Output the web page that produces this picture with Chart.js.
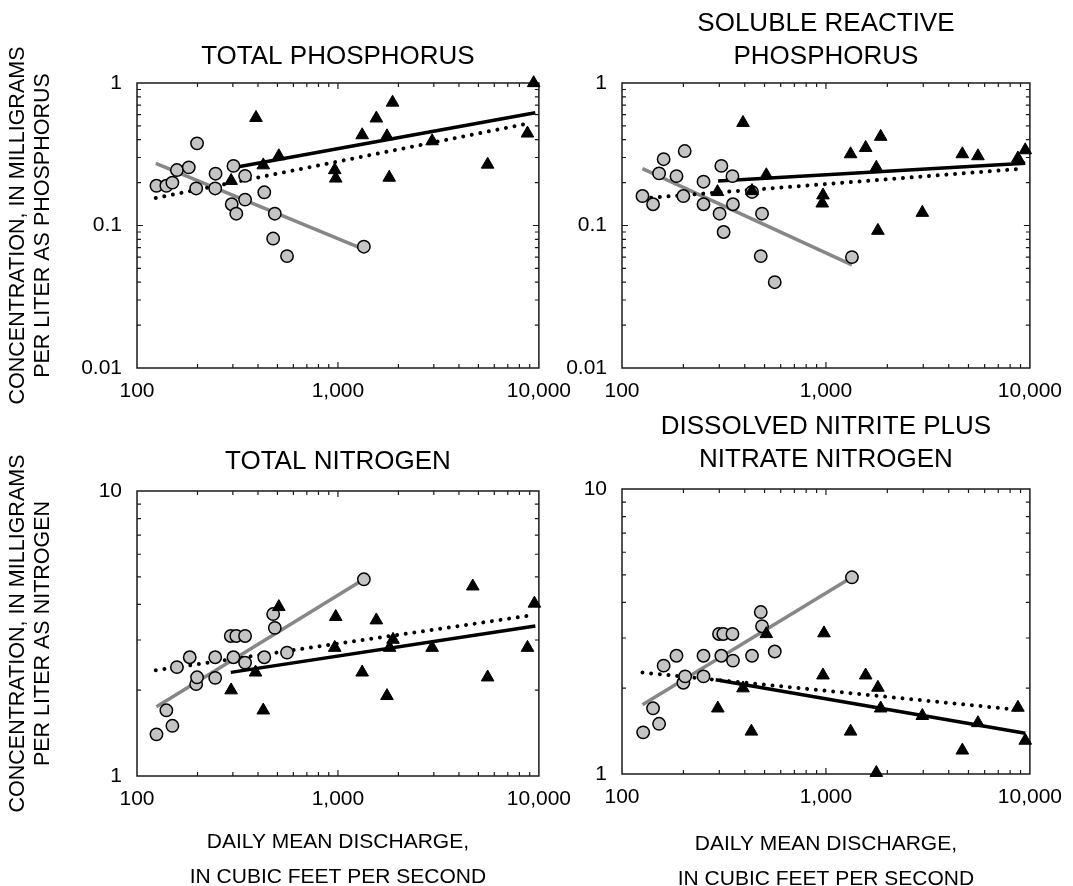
<!DOCTYPE html>
<html>
<head>
<meta charset="utf-8">
<title>Concentration vs discharge</title>
<script src="https://cdn.jsdelivr.net/npm/chart.js@4.4.1/dist/chart.umd.min.js"></script>
<style>
  html, body { margin: 0; padding: 0; background: #fff; overflow: hidden; }
  body { width: 1073px; height: 886px; position: relative; }
  canvas { position: absolute; }
  #cTP  { left: 0;     top: 0; }
  #cSRP { left: 540px; top: 0; }
  #cTN  { left: 0;     top: 400px; }
  #cNO3 { left: 540px; top: 400px; }
</style>
</head>
<body>
<canvas id="cTP" width="582" height="420"></canvas>
<canvas id="cSRP" width="533" height="420"></canvas>
<canvas id="cTN" width="582" height="510"></canvas>
<canvas id="cNO3" width="533" height="510"></canvas>
<script>
// ---- data ----
const X_TICKS = [100, 1000, 10000];
const P_TICKS = [0.01, 0.1, 1];
const N_TICKS = [1, 10];

// total phosphorus
const tpCircX = [125, 140, 150, 158, 181, 199, 197, 246, 245, 302, 296, 312, 345, 345, 430, 485, 476, 558, 1346];
const tpCircY = [0.19, 0.19, 0.20, 0.245, 0.256, 0.377, 0.182, 0.231, 0.182, 0.262, 0.141, 0.121, 0.223, 0.152, 0.171, 0.121, 0.081, 0.061, 0.071];
const tpTriX = [391, 294, 425, 508, 9420, 1870, 1553, 1320, 1754, 2943, 8775, 964, 975, 1800, 5559];
const tpTriY = [0.57, 0.206, 0.265, 0.307, 1.0, 0.73, 0.565, 0.431, 0.424, 0.391, 0.443, 0.245, 0.214, 0.217, 0.268];
const tpGrayX = [124, 1346], tpGrayY = [0.273, 0.068];
const tpSolidX = [300, 9600], tpSolidY = [0.254, 0.618];
const tpDotX = [124, 8900], tpDotY = [0.156, 0.521];

// soluble reactive phosphorus
const srCircX = [126, 142, 152, 160, 185, 203, 200, 251, 251, 307, 348, 301, 350, 315, 434, 486, 479, 561, 1341];
const srCircY = [0.161, 0.141, 0.232, 0.292, 0.222, 0.333, 0.161, 0.203, 0.141, 0.262, 0.222, 0.121, 0.141, 0.090, 0.172, 0.121, 0.061, 0.040, 0.060];
const srTriX = [392, 294, 434, 510, 1321, 1566, 1855, 1766, 967, 959, 1798, 2969, 4664, 5564, 8735, 9490];
const srTriY = [0.526, 0.172, 0.175, 0.226, 0.317, 0.351, 0.42, 0.255, 0.163, 0.143, 0.092, 0.123, 0.317, 0.307, 0.296, 0.338];
const srGrayX = [126, 1341], srGrayY = [0.251, 0.053];
const srSolidX = [296, 9490], srSolidY = [0.205, 0.273];
const srDotX = [126, 8735], srDotY = [0.155, 0.249];

// total nitrogen
const tnCircX = [125, 140, 150, 158, 183, 197, 199, 245, 245, 293, 312, 345, 302, 345, 430, 476, 485, 558, 1346];
const tnCircY = [1.40, 1.70, 1.50, 2.41, 2.61, 2.10, 2.22, 2.61, 2.21, 3.10, 3.10, 3.10, 2.61, 2.50, 2.61, 3.70, 3.31, 2.71, 4.90];
const tnTriX = [294, 389, 425, 508, 975, 964, 1553, 1320, 1754, 1880, 1808, 2943, 4688, 5559, 8775, 9500];
const tnTriY = [2.0, 2.31, 1.70, 3.92, 3.62, 2.82, 3.52, 2.31, 1.91, 3.01, 2.82, 2.82, 4.63, 2.22, 2.82, 4.03];
const tnGrayX = [125, 1346], tnGrayY = [1.75, 4.9];
const tnSolidX = [293, 9600], tnSolidY = [2.31, 3.36];
const tnDotX = [124, 8900], tnDotY = [2.35, 3.65];

// dissolved nitrite plus nitrate nitrogen
const noCircX = [127, 142, 152, 160, 185, 200, 204, 251, 251, 299, 314, 348, 307, 350, 434, 479, 486, 561, 1341];
const noCircY = [1.40, 1.70, 1.50, 2.40, 2.60, 2.09, 2.20, 2.60, 2.20, 3.10, 3.10, 3.10, 2.60, 2.50, 2.60, 3.70, 3.30, 2.69, 4.90];
const noTriX = [295, 392, 431, 510, 978, 967, 1566, 1798, 1321, 1855, 1766, 2969, 4664, 5564, 8735, 9490];
const noTriY = [1.70, 2.00, 1.41, 3.10, 3.12, 2.22, 2.22, 2.01, 1.41, 1.70, 1.01, 1.60, 1.21, 1.51, 1.71, 1.31];
const noGrayX = [126, 1341], noGrayY = [1.75, 4.9];
const noSolidX = [288, 9490], noSolidY = [2.14, 1.39];
const noDotX = [126, 8735], noDotY = [2.27, 1.68];

// ---- helpers ----
const FONT = "'Liberation Sans', Arial, Helvetica, sans-serif";
Chart.defaults.font.family = FONT;
Chart.defaults.color = '#000';

const pts = (xs, ys) => xs.map((x, i) => ({ x: x, y: ys[i] }));

function logMarks(min, max) {
  const out = [];
  for (let e = Math.floor(Math.log10(min)); e < Math.ceil(Math.log10(max)); e++) {
    for (let m = 1; m <= 9; m++) {
      const v = m * Math.pow(10, e);
      if (v > min * 1.0001 && v < max * 0.9999) out.push([v, m === 1]);
    }
  }
  return out;
}

// box around the plot with small inward ticks on all four sides
const frameTicks = {
  id: 'frameTicks',
  beforeDatasetsDraw(chart) {
    const { ctx, chartArea: a, scales: { x, y } } = chart;
    ctx.save();
    ctx.strokeStyle = '#1a1a1a';
    ctx.lineWidth = 1.5;
    ctx.strokeRect(a.left, a.top, a.right - a.left, a.bottom - a.top);
    ctx.lineWidth = 1.2;
    ctx.beginPath();
    logMarks(x.min, x.max).forEach(([v, major]) => {
      const p = x.getPixelForValue(v);
      const len = major ? 6 : 4;
      ctx.moveTo(p, a.bottom); ctx.lineTo(p, a.bottom - len);
      ctx.moveTo(p, a.top); ctx.lineTo(p, a.top + len);
    });
    logMarks(y.min, y.max).forEach(([v, major]) => {
      const p = y.getPixelForValue(v);
      const len = major ? 6 : 4;
      ctx.moveTo(a.left, p); ctx.lineTo(a.left + len, p);
      ctx.moveTo(a.right, p); ctx.lineTo(a.right - len, p);
    });
    ctx.stroke();
    ctx.restore();
  }
};

function panel(id, o) {
  return new Chart(document.getElementById(id), {
    type: 'scatter',
    data: {
      datasets: [
        { data: pts(o.triX, o.triY), pointStyle: 'triangle', pointRadius: 7.3, pointHoverRadius: 7.3,
          backgroundColor: '#000', borderColor: '#000', borderWidth: 1, clip: false, order: 0 },
        { data: pts(o.circX, o.circY), pointStyle: 'circle', pointRadius: 6.2, pointHoverRadius: 6.2,
          backgroundColor: '#c4c4c4', borderColor: '#000', borderWidth: 1.5, clip: false, order: 1 },
        { data: pts(o.dotX, o.dotY), showLine: true, pointRadius: 0, pointHoverRadius: 0,
          borderColor: '#000', borderWidth: 4, borderDash: [0.01, 8.7], borderCapStyle: 'round', order: 2 },
        { data: pts(o.solidX, o.solidY), showLine: true, pointRadius: 0, pointHoverRadius: 0,
          borderColor: '#000', borderWidth: 3.5, order: 3 },
        { data: pts(o.grayX, o.grayY), showLine: true, pointRadius: 0, pointHoverRadius: 0,
          borderColor: '#878787', borderWidth: 3.5, order: 4 }
      ]
    },
    options: {
      responsive: false,
      animation: false,
      devicePixelRatio: 1,
      layout: { padding: { left: 0, right: o.padRight, top: 0, bottom: 0 } },
      plugins: {
        legend: { display: false },
        tooltip: { enabled: false },
        title: {
          display: true, text: o.title, fullSize: false, color: '#000',
          font: { family: FONT, size: 26, weight: 'normal', lineHeight: 1.28 },
          padding: { top: o.titleTop, bottom: o.titleBottom }
        }
      },
      scales: {
        x: {
          type: 'logarithmic', position: 'bottom', min: 100, max: 10000,
          afterBuildTicks: s => { s.ticks = X_TICKS.map(v => ({ value: v })); },
          afterFit: s => { s.height = o.xHeight; },
          grid: { display: false, drawTicks: false },
          border: { display: false },
          ticks: { autoSkip: false, maxRotation: 0, padding: 11, color: '#000',
                   font: { family: FONT, size: 21 },
                   callback: v => Number(v).toLocaleString('en-US') },
          title: {
            display: !!o.xTitle, text: o.xTitle, color: '#000',
            font: { family: FONT, size: 21, lineHeight: 35 / 21 },
            padding: { top: 0, bottom: o.xTitlePad || 0 }
          }
        },
        y: {
          type: 'logarithmic', position: 'left', min: o.yMin, max: o.yMax,
          afterBuildTicks: s => { s.ticks = o.yTicks.map(v => ({ value: v })); },
          afterFit: s => { s.width = o.yWidth; },
          grid: { display: false, drawTicks: false },
          border: { display: false },
          ticks: { autoSkip: false, padding: 15, color: '#000',
                   font: { family: FONT, size: 21 },
                   callback: v => String(v) },
          title: {
            display: !!o.yTitle, text: o.yTitle, color: '#000',
            font: { family: FONT, size: 21.5, lineHeight: 25 / 21.5 },
            padding: { top: 5.5, bottom: 0 }
          }
        }
      }
    },
    plugins: [frameTicks]
  });
}

const X_TITLE = ['DAILY MEAN DISCHARGE,', 'IN CUBIC FEET PER SECOND'];

panel('cTP', {
  circX: tpCircX, circY: tpCircY, triX: tpTriX, triY: tpTriY,
  grayX: tpGrayX, grayY: tpGrayY, solidX: tpSolidX, solidY: tpSolidY, dotX: tpDotX, dotY: tpDotY,
  yMin: 0.01, yMax: 1, yTicks: P_TICKS,
  title: 'TOTAL PHOSPHORUS', titleTop: 40.6, titleBottom: 9.12,
  yTitle: ['CONCENTRATION, IN MILLIGRAMS', 'PER LITER AS PHOSPHORUS'],
  yWidth: 137, padRight: 38, xHeight: 52
});

panel('cSRP', {
  circX: srCircX, circY: srCircY, triX: srTriX, triY: srTriY,
  grayX: srGrayX, grayY: srGrayY, solidX: srSolidX, solidY: srSolidY, dotX: srDotX, dotY: srDotY,
  yMin: 0.01, yMax: 1, yTicks: P_TICKS,
  title: ['SOLUBLE REACTIVE', 'PHOSPHORUS'], titleTop: 7.1, titleBottom: 9.34,
  yWidth: 82, padRight: 43, xHeight: 52
});

panel('cTN', {
  circX: tnCircX, circY: tnCircY, triX: tnTriX, triY: tnTriY,
  grayX: tnGrayX, grayY: tnGrayY, solidX: tnSolidX, solidY: tnSolidY, dotX: tnDotX, dotY: tnDotY,
  yMin: 1, yMax: 10, yTicks: N_TICKS,
  title: 'TOTAL NITROGEN', titleTop: 45.6, titleBottom: 12.12,
  yTitle: ['CONCENTRATION, IN MILLIGRAMS', 'PER LITER AS NITROGEN'],
  xTitle: X_TITLE, xTitlePad: 15.5,
  yWidth: 137, padRight: 38, xHeight: 134
});

panel('cNO3', {
  circX: noCircX, circY: noCircY, triX: noTriX, triY: noTriY,
  grayX: noGrayX, grayY: noGrayY, solidX: noSolidX, solidY: noSolidY, dotX: noDotX, dotY: noDotY,
  yMin: 1, yMax: 10, yTicks: N_TICKS,
  title: ['DISSOLVED NITRITE PLUS', 'NITRATE NITROGEN'], titleTop: 10.3, titleBottom: 12.14,
  xTitle: X_TITLE, xTitlePad: 13.5,
  yWidth: 82, padRight: 43, xHeight: 136
});
</script>
</body>
</html>
